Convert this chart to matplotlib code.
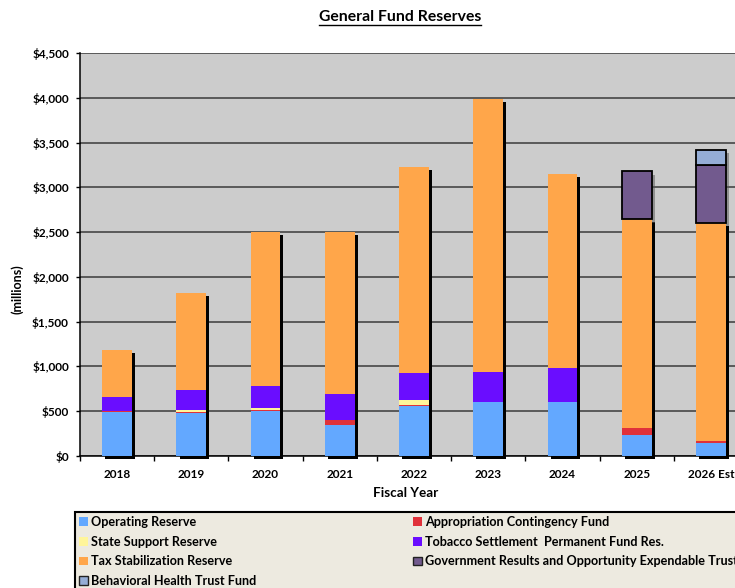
import numpy as np
import matplotlib
matplotlib.use("Agg")
import matplotlib.pyplot as plt
import matplotlib.patheffects as pe
from matplotlib.patches import Patch
from matplotlib.lines import Line2D
from matplotlib.ticker import FuncFormatter, FixedLocator

plt.rcParams['font.family'] = ['Lato', 'DejaVu Sans']
plt.rcParams['font.weight'] = 'bold'

# reserve balances, $ millions
years = ['2018', '2019', '2020', '2021', '2022', '2023', '2024', '2025', '2026 Est']
operating = [488, 485, 505, 346, 562, 598, 600, 238, 150]
appropriation = [12, 10, 10, 56, 12, 5, 5, 75, 20]
state_support = [0, 15, 20, 0, 48, 0, 0, 0, 0]
tobacco = [155, 227, 247, 294, 305, 331, 378, 0, 0]
tax_stab = [525, 1083, 1718, 1809, 2300, 3056, 2167, 2333, 2435]
gov_results = [0, 0, 0, 0, 0, 0, 0, 533, 648]
behavioral = [0, 0, 0, 0, 0, 0, 0, 0, 164]

series = [
    ('Operating Reserve', operating, '#63A8FF', False),
    ('Appropriation Contingency Fund', appropriation, '#E0313A', False),
    ('State Support Reserve', state_support, '#FFF59A', False),
    ('Tobacco Settlement  Permanent Fund Res.', tobacco, '#6A0DFF', False),
    ('Tax Stabilization Reserve', tax_stab, '#FFA64A', False),
    ('Government Results and Opportunity Expendable Trust', gov_results, '#725A8E', True),
    ('Behavioral Health Trust Fund', behavioral, '#95ADD6', True),
]

W, H = 735, 588
fig = plt.figure(figsize=(W / 100, H / 100), dpi=100)
ax = fig.add_axes([80 / W, 132 / H, 668 / W, 403 / H])
ax.set_facecolor('#CCCCCC')

x = np.arange(len(years))
width = 0.4

# hard black drop shadow behind the core stack
core = np.sum([operating, appropriation, state_support, tobacco, tax_stab], axis=0)
ax.bar(x, core, width, color='black', zorder=2, clip_on=False,
       path_effects=[pe.SimplePatchShadow(offset=(2.2, -2.2), shadow_rgbFace='black', alpha=1.0)])

# softer shadow behind the trust fund segments
upper = np.array(gov_results) + np.array(behavioral)
m = upper > 0
ax.bar(x[m], upper[m], width, bottom=core[m], color='none', zorder=2,
       path_effects=[pe.SimplePatchShadow(offset=(2.5, -2.5), shadow_rgbFace='#555555', alpha=0.5)])

bottom = np.zeros(len(years))
handles = {}
for label, vals, color, edged in series:
    vals = np.array(vals, dtype=float)
    m = vals > 0
    if edged:
        ax.bar(x[m], vals[m], width, bottom=bottom[m], color=color,
               edgecolor='black', linewidth=1.3, zorder=3)
        handles[label] = Patch(facecolor=color, edgecolor='#222222', linewidth=1.0)
    else:
        ax.bar(x[m], vals[m], width, bottom=bottom[m], color=color,
               edgecolor='none', zorder=3)
        handles[label] = Patch(facecolor=color, edgecolor='none')
    bottom += vals

ax.set_xlim(-0.5, len(years) - 0.5)
ax.set_ylim(0, 4500)
ax.set_yticks(np.arange(0, 4501, 500))
ax.yaxis.set_major_formatter(FuncFormatter(lambda v, p: f'${v:,.0f}'))
ax.grid(axis='y', color='#3A3A3A', linewidth=1.1)
ax.set_axisbelow(True)

ax.set_xticks(x)
ax.set_xticklabels(years)
ax.xaxis.set_minor_locator(FixedLocator(np.arange(-0.5, len(years), 1.0)))
ax.tick_params(axis='x', which='major', length=0, pad=9, labelsize=8.5)
ax.tick_params(axis='x', which='minor', length=3.5, width=1, direction='out')
ax.tick_params(axis='y', length=3, width=1, pad=5, labelsize=8.5)

for s in ['top', 'right']:
    ax.spines[s].set_visible(False)
ax.spines['left'].set_linewidth(1.1)
ax.spines['bottom'].set_linewidth(1.1)

fig.text(406 / W, 1 - 493 / H, 'Fiscal Year', ha='center', va='center', fontsize=9.7, fontweight='bold')
fig.text(17.5 / W, 1 - 289 / H, '(millions)', ha='center', va='center', rotation=90,
         fontsize=9, fontweight='bold')

title = fig.text(400 / W, 1 - 17 / H, 'General Fund Reserves', ha='center', va='center',
                 fontsize=11.3, fontweight='bold')
fig.canvas.draw()
bb = title.get_window_extent(fig.canvas.get_renderer()).transformed(fig.transFigure.inverted())
fig.add_artist(Line2D([bb.x0, bb.x1], [bb.y0 - 0.002, bb.y0 - 0.002], color='black',
                      linewidth=1.0, transform=fig.transFigure))

order = ['Operating Reserve', 'State Support Reserve', 'Tax Stabilization Reserve',
         'Behavioral Health Trust Fund', 'Appropriation Contingency Fund',
         'Tobacco Settlement  Permanent Fund Res.',
         'Government Results and Opportunity Expendable Trust']
leg = fig.legend([handles[k] for k in order], order, ncol=2, loc='upper left',
                 bbox_to_anchor=(75 / W, 1 - 512 / H), frameon=True, fancybox=False,
                 facecolor='#EDEAE0', edgecolor='black', framealpha=1,
                 fontsize=9.1, handlelength=0.7, handleheight=0.7, handletextpad=0.25,
                 labelspacing=0.62, columnspacing=12.4, borderpad=0.3, borderaxespad=0)
leg.get_frame().set_linewidth(1.5)

fig.savefig('out.png', dpi=100)
